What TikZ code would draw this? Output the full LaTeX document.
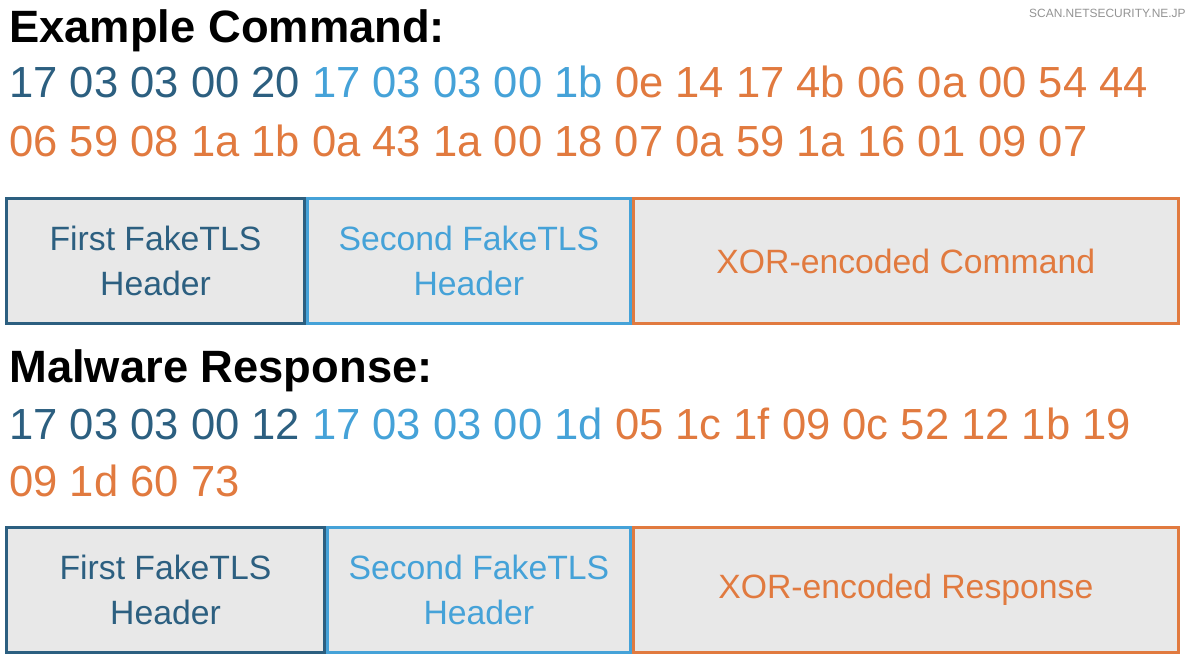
\documentclass[tikz,border=0pt]{standalone}
\usepackage{fontspec}
\setmainfont{Liberation Sans}
\usetikzlibrary{positioning}
\definecolor{hdrdark}{HTML}{2C5F80}
\definecolor{hdrlight}{HTML}{45A2D8}
\definecolor{xororange}{HTML}{E17A3F}
\definecolor{cellgray}{HTML}{E8E8E8}
\tikzset{
        heading/.style={anchor=base west, inner sep=0pt, font=\fontsize{25.8}{30}\selectfont\bfseries},
        hexline/.style={anchor=base west, inner sep=0pt, font=\fontsize{24.8}{30}\selectfont},
        cell/.style={draw, fill=cellgray, line width=0.06cm, minimum height=2.5cm, align=center, inner sep=0pt, font=\fontsize{19.2}{25.5}\selectfont},
        firsthdr/.style={cell, draw=hdrdark, text=hdrdark},
        secondhdr/.style={cell, draw=hdrlight, text=hdrlight},
        payload/.style={cell, draw=xororange, text=xororange, minimum width=10.9cm},
        stamp/.style={anchor=east, inner sep=0pt, text=gray!85, font=\fontsize{6.8}{8}\selectfont}
          }
\begin{document}
\begin{tikzpicture}[x=0.02cm, y=-0.02cm]
        \useasboundingbox (0,0) rectangle (1200,668);
        \node[stamp] (site) at (1186,13) {SCAN.NETSECURITY.NE.JP};

        % command
        \node[heading] (cmdtitle) at (9,43) {Example Command:};
        \node[hexline] (cmdhex1) at (9,98) {\textcolor{hdrdark}{17 03 03 00 20} \textcolor{hdrlight}{17 03 03 00 1b} \textcolor{xororange}{0e 14 17 4b 06 0a 00 54 44}};
        \node[hexline, text=xororange] (cmdhex2) at (9,157) {06 59 08 1a 1b 0a 43 1a 00 18 07 0a 59 1a 16 01 09 07};
        \node[firsthdr, minimum width=5.96cm, anchor=west] (cmdfirst) at (5,261) {First FakeTLS\\Header};
        \node[secondhdr, minimum width=6.46cm, right=0pt of cmdfirst] (cmdsecond) {Second FakeTLS\\Header};
        \node[payload, right=0pt of cmdsecond] (cmdxor) {XOR-encoded Command};

        % response
        \node[heading] (resptitle) at (9,383) {Malware Response:};
        \node[hexline] (resphex1) at (9,440) {\textcolor{hdrdark}{17 03 03 00 12} \textcolor{hdrlight}{17 03 03 00 1d} \textcolor{xororange}{05 1c 1f 09 0c 52 12 1b 19}};
        \node[hexline, text=xororange] (resphex2) at (9,497) {09 1d 60 73};
        \node[firsthdr, minimum width=6.36cm, anchor=west] (respfirst) at (5,590) {First FakeTLS\\Header};
        \node[secondhdr, minimum width=6.06cm, right=0pt of respfirst] (respsecond) {Second FakeTLS\\Header};
        \node[payload, right=0pt of respsecond] (respxor) {XOR-encoded Response};
\end{tikzpicture}
\end{document}
